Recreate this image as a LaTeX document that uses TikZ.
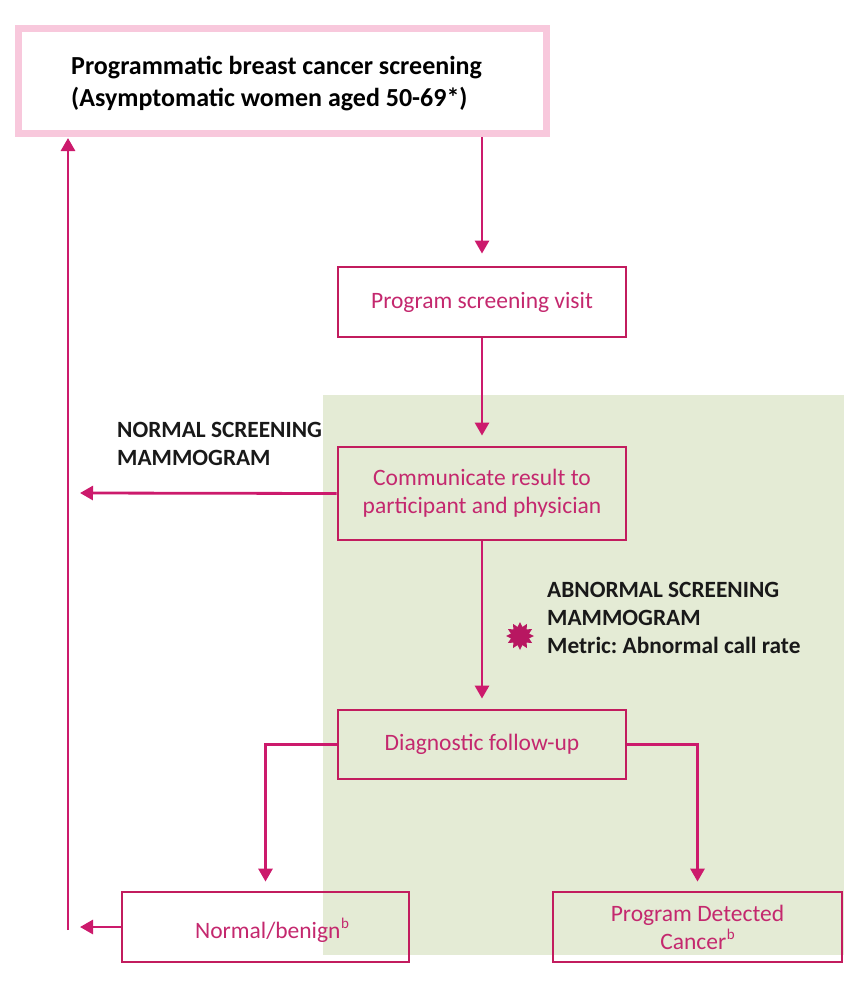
\documentclass[tikz,border=0pt]{standalone}
\usepackage{fontspec}
\setmainfont{Carlito}
\usetikzlibrary{arrows.meta,shapes.geometric}
\definecolor{mag}{HTML}{CC1A6C}
\definecolor{boxc}{HTML}{C21C5E}
\definecolor{pinkb}{HTML}{F8C8DC}
\definecolor{greenbg}{HTML}{E4EBD5}
\definecolor{txtm}{HTML}{C4286E}
\frenchspacing
\newcommand{\supb}{\kern0.5pt\raisebox{0.42em}{\fontsize{15}{15}\selectfont b}}
\tikzset{
  flowbox/.style={draw=boxc, line width=2.8pt, rectangle, minimum width=288pt,
    text=txtm, align=center, inner sep=0pt,
    font=\fontsize{23.5}{28}\selectfont},
  conn/.style={draw=mag, line width=2.8pt, -{Triangle[width=14pt,length=13pt]}},
  blacklabel/.style={align=left, inner sep=0pt, text=black!90,
    font=\bfseries\fontsize{23.3}{28}\selectfont}
}
\begin{document}
\begin{tikzpicture}[x=1pt,y=-1pt]
\useasboundingbox (0,0) rectangle (844,982);
\fill[greenbg] (323,395) rectangle (844,955);

% top box
\node[draw=pinkb, line width=7pt, rectangle, minimum width=528pt, minimum height=105pt, inner sep=0pt] (top) at (282.5,81) {};
\node[anchor=west, align=left, inner sep=0pt, text=black, font=\bfseries\fontsize{26}{32}\selectfont] (toptext) at (71,84) {Programmatic breast cancer screening\\(Asymptomatic women aged 50-69*)};

% boxes
\node[flowbox, minimum height=70pt] (visit) at (482,302) {Program screening visit};
\node[flowbox, minimum height=93pt] (comm) at (482,493.5) {Communicate result to\\participant and physician};
\node[flowbox, minimum height=69pt] (diag) at (482,744.5) {Diagnostic follow-up};
\node[flowbox, minimum width=287pt, minimum height=70pt] (normal) at (265.5,927) {};
\node[text=txtm, inner sep=0pt, font=\fontsize{23.5}{28}\selectfont] (normaltext) at (272,930) {Normal/benign\supb};
\node[flowbox, minimum width=289pt, minimum height=70pt] (cancer) at (697.5,927) {Program Detected\\Cancer\supb};

% labels
\node[blacklabel, anchor=west] (normlab) at (117,444) {NORMAL SCREENING\\MAMMOGRAM};
\node[blacklabel, anchor=west] (abnlab) at (547,618) {ABNORMAL SCREENING\\MAMMOGRAM\\Metric: Abnormal call rate};
\node[star, star points=12, star point ratio=1.5, fill=mag!90!black, minimum size=28pt, inner sep=0pt] (burst) at (520,636) {};

% coordinates
\coordinate (nm) at (80,493);
\coordinate (nb) at (80,927);
\coordinate (ret) at (68,930);

% connectors
\draw[conn, shorten >=12pt] (top.south -| visit.north) -- (visit.north);
\draw[conn, shorten >=10pt] (visit.south) -- (comm.north);
\draw[conn] (comm.west) -- (nm);
\draw[conn, shorten >=10pt] (comm.south) -- (diag.north);
\draw[conn, shorten >=9pt] (diag.west) -| (normal.north);
\draw[conn, shorten >=9pt] (diag.east) -| (cancer.north);
\draw[conn] (normal.west) -- (nb);
\draw[conn, shorten >=1pt] (ret) -- (ret |- top.south);
\end{tikzpicture}
\end{document}
